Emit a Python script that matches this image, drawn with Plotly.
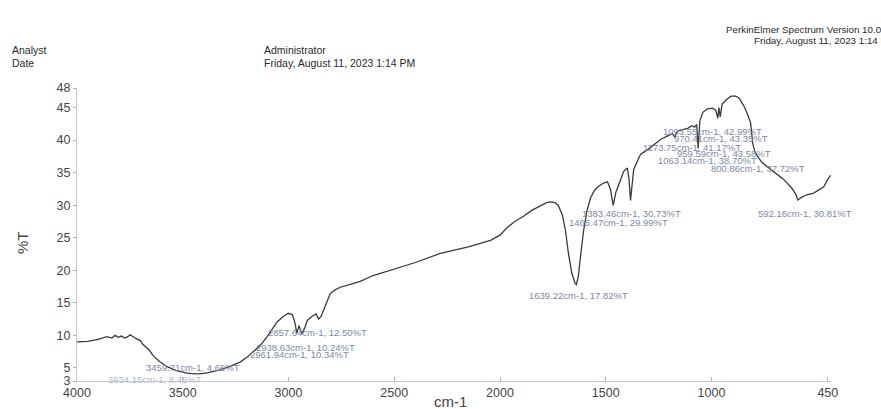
import plotly.graph_objects as go

# Spectrum data (wavenumber cm-1, %T)
wavenumber = [4000, 3950, 3900, 3858, 3835, 3820, 3805, 3790, 3775, 3760, 3749, 3735, 3720, 3700, 3688,
              3660, 3640, 3610, 3574, 3530, 3480, 3440, 3418, 3380, 3323, 3280, 3229, 3190, 3167,
              3130, 3101, 3075, 3053, 3025, 3001, 2982, 2970, 2961, 2950, 2938, 2925, 2911, 2890,
              2870, 2857, 2845, 2830, 2817, 2803, 2780, 2755, 2700, 2661, 2600, 2500, 2400, 2282,
              2150, 2045, 2000, 1965, 1930, 1889, 1850, 1809, 1780, 1762, 1740, 1725, 1705, 1690,
              1676, 1660, 1645, 1639, 1630, 1618, 1605, 1590, 1572, 1555, 1539, 1510, 1492, 1478,
              1465, 1452, 1440, 1415, 1398, 1390, 1383, 1375, 1368, 1350, 1336, 1303, 1270, 1241,
              1210, 1185, 1173, 1165, 1150, 1113, 1093, 1080, 1070, 1063, 1055, 1040, 1020, 995,
              980, 970, 965, 959, 950, 930, 910, 890, 871, 848, 830, 815, 805, 800, 795, 780,
              760, 740, 700, 660, 620, 600, 592, 575, 550, 520, 500, 470, 450, 437]
transmittance = [9.0, 9.1, 9.4, 9.8, 9.6, 10.0, 9.7, 9.9, 9.6, 9.8, 10.1, 9.8, 9.5, 9.2, 8.6,
                 7.8, 6.9, 6.0, 5.2, 4.6, 4.2, 4.1, 4.1, 4.3, 4.7, 5.2, 5.9, 6.8, 7.5,
                 8.6, 9.8, 11.0, 12.1, 12.9, 13.4, 13.2, 12.0, 10.34, 11.5, 10.24, 11.0, 12.3, 12.9,
                 13.3, 12.5, 13.0, 14.2, 15.4, 16.4, 17.0, 17.4, 17.9, 18.3, 19.2, 20.2, 21.2, 22.6,
                 23.6, 24.6, 25.4, 26.6, 27.5, 28.3, 29.2, 29.9, 30.4, 30.5, 30.4, 30.0, 28.5, 26.0,
                 22.5, 19.5, 18.0, 17.82, 19.0, 22.5, 26.0, 29.0, 31.1, 32.2, 32.8, 33.4, 33.6, 32.5,
                 29.99, 32.0, 33.0, 35.2, 35.7, 34.0, 30.73, 34.0, 35.5, 36.8, 37.8, 38.5, 39.4, 40.1,
                 40.6, 41.0, 40.4, 41.2, 41.5, 41.8, 42.2, 42.0, 42.4, 38.70, 43.0, 44.3, 44.8, 44.9,
                 44.6, 43.35, 45.0, 43.58, 45.5, 46.2, 46.7, 46.8, 46.5, 45.3, 44.0, 42.6, 39.5, 38.6, 38.2, 37.4,
                 36.5, 36.0, 35.0, 34.0, 32.6, 31.6, 30.81, 31.2, 31.6, 31.8, 32.2, 32.8, 34.0, 34.6]

# Peak labels and their positions (data coordinates)
peak_labels = ["3634.15cm-1, 8.45%T", "3459.71cm-1, 4.66%T", "2938.63cm-1, 10.24%T",
               "2961.94cm-1, 10.34%T", "2857.64cm-1, 12.50%T", "1639.22cm-1, 17.82%T",
               "1383.46cm-1, 30.73%T", "1465.47cm-1, 29.99%T", "592.16cm-1, 30.81%T",
               "1093.55cm-1, 42.99%T", "970.41cm-1, 43.35%T", "1173.75cm-1, 41.17%T",
               "959.59cm-1, 43.58%T", "1063.14cm-1, 38.70%T", "800.86cm-1, 37.72%T"]
label_x = [3631, 3452, 2922, 2946, 2861, 1631, 1376, 1442, 558, 993, 955, 1092, 941, 1017, 780]
label_y = [3.3, 5.0, 8.07, 7.0, 10.4, 16.06, 28.65, 27.4, 28.8, 41.25, 40.2, 38.9, 38.0, 36.8, 35.6]

x_ticks = [4000, 3500, 3000, 2500, 2000, 1500, 1000, 450]
y_ticks = [3, 5, 10, 15, 20, 25, 30, 35, 40, 45, 48]

W, H = 881, 409
ML, MR, MT, MB = 77, 50, 88, 28
PW, PH = W - ML - MR, H - MT - MB


def px2paper(px, py):
    return (px - ML) / PW, (H - MB - py) / PH


fig = go.Figure()
fig.add_trace(go.Scatter(x=wavenumber, y=transmittance, mode="lines",
                         line=dict(color="#3a3a3a", width=1.3), showlegend=False,
                         hoverinfo="skip"))

font_main = "Liberation Sans, Arial, sans-serif"
annotations = []
for i, (t, lx, ly) in enumerate(zip(peak_labels, label_x, label_y)):
    annotations.append(dict(x=lx, y=ly, xref="x", yref="y", text=t, showarrow=False,
                            font=dict(family=font_main, size=9.5,
                                      color="#b0b8c8" if i == 0 else "#7c88a2")))

header = [
    ("Analyst", 10, 50, 10.5), ("Date", 10, 63, 10.5),
    ("Administrator", 262, 50, 10.5), ("Friday, August 11, 2023 1:14 PM", 262, 63, 10.5),
    ("PerkinElmer Spectrum Version 10.03", 724, 30, 9.8),
    ("Friday, August 11, 2023 1:14 PM", 752, 40, 9.8),
]
for t, px, py, fs in header:
    xp, yp = px2paper(px, py)
    annotations.append(dict(x=xp, y=yp, xref="paper", yref="paper", text=t,
                            showarrow=False, xanchor="left", yanchor="middle",
                            font=dict(family=font_main, size=fs, color="#2a2a2a")))

# axis titles
xp, yp = px2paper(450, 401)
annotations.append(dict(x=xp, y=yp, xref="paper", yref="paper", text="cm-1", showarrow=False,
                        xanchor="center", yanchor="middle",
                        font=dict(family=font_main, size=15, color="#444444")))
xp, yp = px2paper(22, 243)
annotations.append(dict(x=xp, y=yp, xref="paper", yref="paper", text="%T", showarrow=False,
                        xanchor="center", yanchor="middle", textangle=-90,
                        font=dict(family=font_main, size=15, color="#444444")))

fig.update_layout(
    width=W, height=H,
    margin=dict(l=ML, r=MR, t=MT, b=MB, autoexpand=False),
    paper_bgcolor="white", plot_bgcolor="white",
    annotations=annotations,
    xaxis=dict(range=[4000, 435], tickvals=x_ticks, ticktext=[str(v) for v in x_ticks],
               showgrid=False, zeroline=False, showline=True, linecolor="#c8c8c8", linewidth=1,
               ticks="inside", ticklen=4, tickcolor="#b0b0b0",
               tickfont=dict(family=font_main, size=12.5, color="#444444")),
    yaxis=dict(range=[3, 48], tickvals=y_ticks, ticktext=[str(v) for v in y_ticks],
               showgrid=False, zeroline=False, showline=True, linecolor="#c8c8c8", linewidth=1,
               ticks="outside", ticklen=3, tickcolor="#b0b0b0",
               tickfont=dict(family=font_main, size=12.5, color="#444444")),
)

fig.write_html("out.html", config={"displayModeBar": False},
               post_script="document.body.style.margin='0';")
